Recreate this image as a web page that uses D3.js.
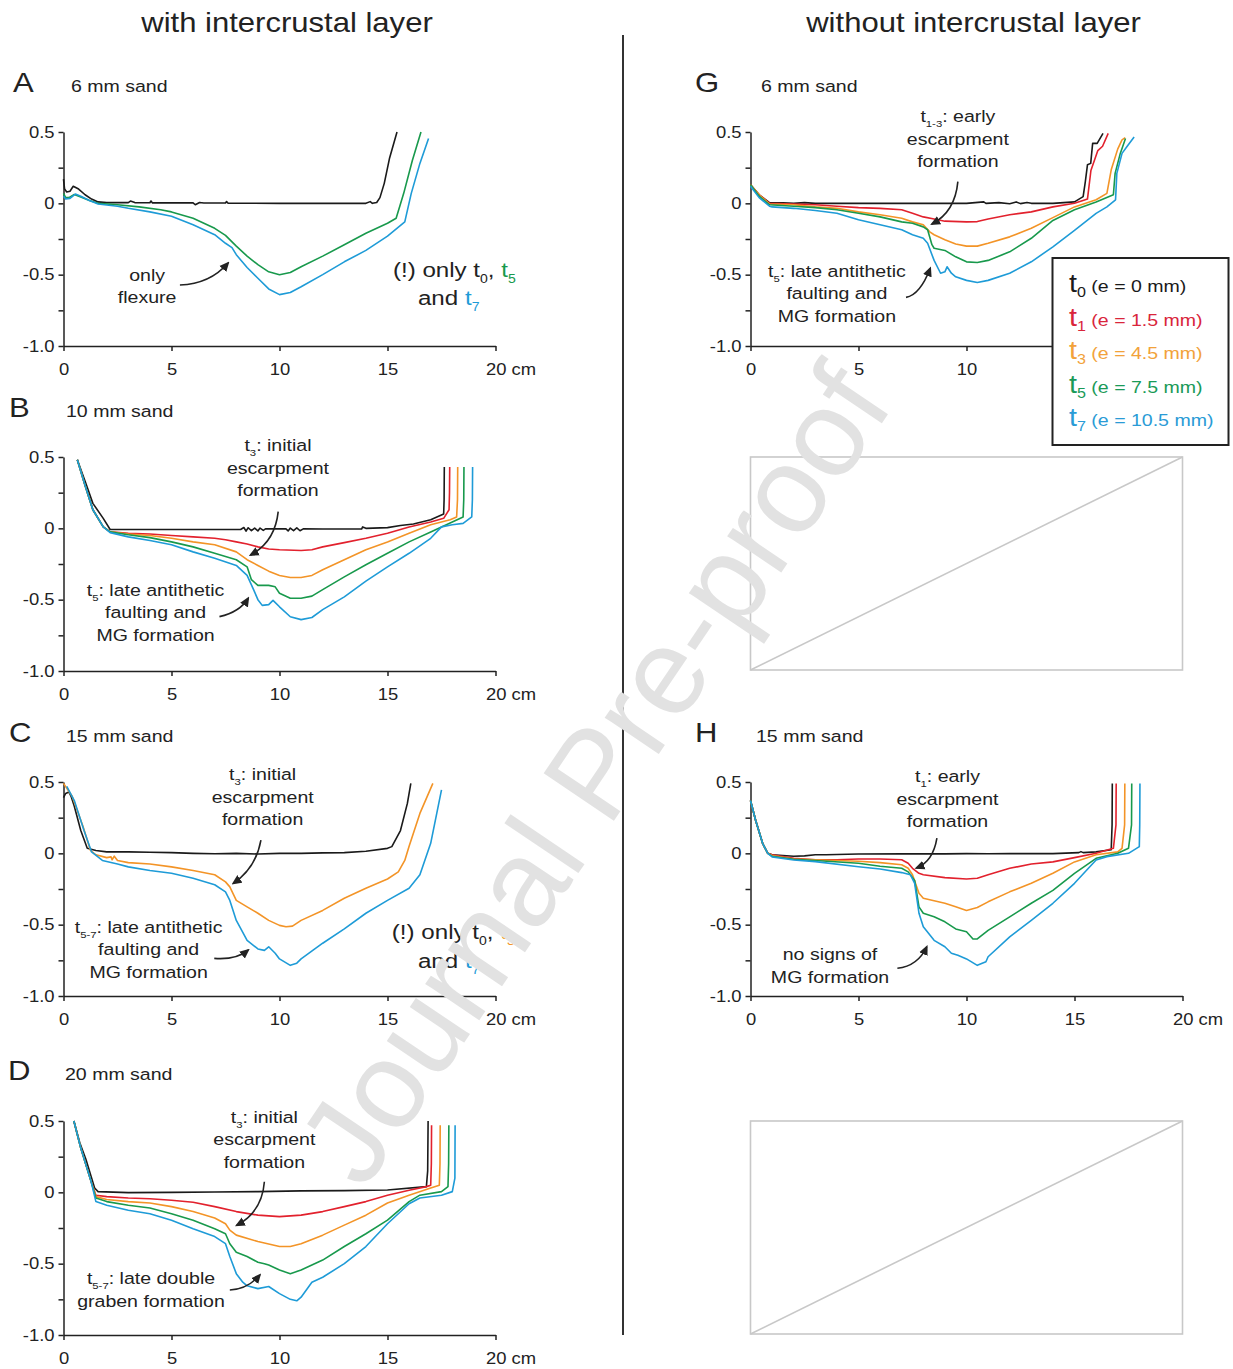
<!DOCTYPE html>
<html><head><meta charset="utf-8">
<script src="https://cdn.jsdelivr.net/npm/d3@7"></script>
<style>body{margin:0;background:#fff}svg{display:block}</style>
</head><body>
<svg id="chart" width="1233" height="1369"></svg>
<script>
// ---------------- DATA ----------------
const xTickValues = [0, 5, 10, 15, 20];
const xTickLabels = ["0", "5", "10", "15", "20 cm"];
const xTickLabelsHidden = ["0", "5", "10", "", ""]; // panel G: 15 and 20 cm lie under the legend
const yTickValues = [-1, -0.75, -0.5, -0.25, 0, 0.25, 0.5];
const yTickLabels = ["-1.0", "", "-0.5", "", "0", "", "0.5"];

const seriesNames = ["t0", "t1", "t3", "t5", "t7"];
const legendLabels = [" (e = 0 mm)", " (e = 1.5 mm)", " (e = 4.5 mm)", " (e = 7.5 mm)", " (e = 10.5 mm)"];

// Panel A - 6 mm sand, with intercrustal layer
const A_t0 = [[0,0.17],[0.05,0.1],[0.15,0.08],[0.3,0.085],[0.45,0.12],[0.7,0.1],[1.0,0.06],[1.3,0.03],[1.6,0.01],[2.0,0.005],[3.0,0.005],[3.1,0.016],[3.3,0.005],[4.0,0.004],[4.05,0.016],[4.12,0.003],[5,0.003],[6,0.003],[6.1,-0.01],[6.3,0.006],[6.5,0.002],[7.5,0.002],[7.55,0.013],[7.62,0.001],[10,0],[14,0],[14.2,0.012],[14.3,0],[14.5,0.006],[14.65,0.04],[14.85,0.14],[15.1,0.32],[15.44,0.5]];
const A_t5 = [[0,0.07],[0.1,0.04],[0.25,0.04],[0.5,0.062],[0.8,0.045],[1.2,0.02],[1.6,0],[2.5,-0.01],[3.5,-0.025],[4.5,-0.045],[5,-0.06],[6,-0.105],[7,-0.175],[7.5,-0.225],[8,-0.3],[8.5,-0.37],[9,-0.43],[9.5,-0.48],[10,-0.5],[10.5,-0.485],[11,-0.445],[12,-0.37],[13,-0.29],[14,-0.21],[15,-0.14],[15.4,-0.105],[15.75,0.07],[16.15,0.3],[16.55,0.5]];
const A_t7 = [[0,0.05],[0.1,0.03],[0.3,0.035],[0.55,0.065],[0.8,0.05],[1.2,0.02],[1.6,-0.005],[2.5,-0.02],[3,-0.035],[4,-0.06],[5,-0.09],[6,-0.15],[7,-0.22],[7.5,-0.28],[7.8,-0.31],[8,-0.36],[8.5,-0.45],[9,-0.525],[9.5,-0.6],[10,-0.64],[10.5,-0.625],[11,-0.585],[12,-0.5],[13,-0.41],[14,-0.33],[15,-0.23],[15.8,-0.13],[16.1,0.07],[16.5,0.28],[16.9,0.455]];

// Panel B - 10 mm sand
const B_t0 = [[0.64,0.48],[1.0,0.33],[1.36,0.175],[1.84,0.07],[2.16,-0.008],[3,-0.008],[5,-0.008],[8.2,-0.008],[8.35,0.006],[8.45,-0.02],[8.55,0.004],[8.7,-0.016],[8.85,0.002],[9.0,-0.018],[9.1,0.002],[9.25,-0.014],[9.35,-0.004],[10.3,-0.004],[10.4,-0.018],[10.5,0.002],[10.65,-0.016],[10.8,0.003],[10.95,-0.017],[11.1,-0.004],[12,-0.005],[13.8,-0.005],[13.85,0.01],[14,0],[15,0.005],[15.6,0.02],[16.2,0.03],[17,0.06],[17.6,0.1],[17.62,0.2],[17.63,0.43]];
const B_t1 = [[0.64,0.48],[1.0,0.3],[1.36,0.13],[1.84,0.01],[2.16,-0.025],[3,-0.035],[4,-0.04],[5,-0.05],[6,-0.06],[7,-0.07],[7.5,-0.08],[8,-0.095],[8.5,-0.11],[9,-0.13],[9.5,-0.145],[10,-0.15],[11,-0.155],[11.5,-0.15],[12,-0.13],[13,-0.1],[14,-0.07],[15,-0.035],[16,0.01],[17,0.045],[17.6,0.07],[17.85,0.13],[17.87,0.25],[17.88,0.43]];
const B_t3 = [[0.64,0.48],[1.0,0.3],[1.36,0.13],[1.84,0.01],[2.16,-0.025],[3,-0.04],[4,-0.05],[5,-0.07],[6,-0.095],[7,-0.115],[8,-0.165],[8.5,-0.22],[9,-0.26],[9.5,-0.3],[10,-0.33],[10.5,-0.345],[11,-0.345],[11.5,-0.33],[12,-0.29],[13,-0.22],[14,-0.15],[15,-0.095],[16,-0.035],[17,0.025],[17.9,0.06],[18.2,0.08],[18.24,0.2],[18.25,0.43]];
const B_t5 = [[0.64,0.48],[1.0,0.3],[1.36,0.13],[1.84,0.01],[2.16,-0.025],[3,-0.045],[4,-0.065],[5,-0.095],[6,-0.13],[7,-0.175],[8,-0.22],[8.5,-0.27],[8.7,-0.36],[9,-0.4],[9.5,-0.4],[9.8,-0.41],[10,-0.455],[10.5,-0.49],[11,-0.49],[11.5,-0.475],[12,-0.43],[13,-0.34],[14,-0.255],[15,-0.175],[16,-0.095],[17,-0.025],[18,0.045],[18.5,0.08],[18.53,0.2],[18.54,0.43]];
const B_t7 = [[0.64,0.48],[1.0,0.3],[1.36,0.13],[1.84,0.01],[2.16,-0.03],[3,-0.06],[4,-0.085],[5,-0.115],[6,-0.165],[7,-0.21],[8,-0.26],[8.5,-0.33],[8.8,-0.43],[9,-0.5],[9.2,-0.54],[9.5,-0.535],[9.7,-0.505],[10,-0.55],[10.5,-0.62],[11,-0.64],[11.5,-0.625],[12,-0.57],[13,-0.48],[14,-0.37],[15,-0.27],[16,-0.175],[17,-0.07],[17.5,0.01],[18,0.025],[18.5,0.035],[18.9,0.08],[18.93,0.2],[18.94,0.43]];

// Panel C - 15 mm sand
const C_t0 = [[0,0.39],[0.1,0.42],[0.25,0.43],[0.35,0.4],[0.5,0.33],[0.8,0.16],[1.1,0.035],[1.5,0.02],[2,0.01],[3,0.01],[4,0.008],[5,0.005],[6,0],[7,-0.003],[8,0],[9,-0.005],[10,0],[11,0],[12,0.003],[13,0.005],[14,0.015],[15,0.035],[15.2,0.047],[15.6,0.16],[15.92,0.35],[16.08,0.49]];
const C_t3 = [[0,0.49],[0.4,0.4],[0.9,0.19],[1.25,0.02],[1.5,-0.01],[2.0,-0.03],[2.2,-0.025],[2.25,-0.045],[2.35,-0.02],[2.5,-0.05],[3,-0.065],[4,-0.075],[5,-0.095],[6,-0.12],[7,-0.15],[7.5,-0.2],[7.7,-0.235],[8,-0.33],[8.5,-0.375],[9,-0.42],[9.5,-0.47],[10,-0.505],[10.3,-0.515],[10.6,-0.51],[11,-0.47],[12,-0.4],[13,-0.315],[14,-0.245],[15,-0.18],[15.5,-0.13],[15.8,-0.05],[16,0.05],[16.5,0.28],[17.1,0.49]];
const C_t7 = [[0.15,0.47],[0.5,0.37],[0.95,0.16],[1.3,0.01],[1.8,-0.05],[2.5,-0.075],[3,-0.095],[4,-0.12],[5,-0.14],[6,-0.175],[7,-0.22],[7.5,-0.27],[7.7,-0.33],[8,-0.47],[8.5,-0.61],[9,-0.67],[9.3,-0.68],[9.5,-0.655],[9.8,-0.7],[10,-0.74],[10.5,-0.785],[10.8,-0.77],[11,-0.74],[12,-0.63],[13,-0.53],[14,-0.42],[15,-0.33],[16,-0.245],[16.5,-0.15],[17,0.07],[17.5,0.445]];

// Panel D - 20 mm sand
const D_t0 = [[0.48,0.5],[0.75,0.35],[1.04,0.23],[1.44,0.03],[1.6,0.005],[3,-0.002],[5,0],[7,0.002],[9,0.005],[11,0.01],[13,0.012],[15,0.016],[16.8,0.04],[16.86,0.15],[16.88,0.5]];
const D_t1 = [[0.48,0.5],[0.8,0.31],[1.28,0.075],[1.5,-0.02],[2,-0.03],[3,-0.04],[4,-0.045],[5,-0.055],[6,-0.07],[7,-0.1],[8,-0.135],[9,-0.16],[10,-0.17],[11,-0.16],[12,-0.135],[13,-0.1],[14,-0.065],[15,-0.02],[16,0.015],[16.8,0.04],[17.0,0.05],[17.03,0.2],[17.04,0.47]];
const D_t3 = [[0.48,0.5],[0.8,0.31],[1.28,0.075],[1.5,-0.03],[2,-0.05],[3,-0.065],[4,-0.075],[5,-0.1],[6,-0.135],[7,-0.18],[7.5,-0.22],[7.7,-0.265],[8,-0.3],[9,-0.345],[10,-0.38],[10.5,-0.38],[11,-0.36],[12,-0.3],[13,-0.23],[14,-0.16],[15,-0.075],[16,-0.02],[17,0.03],[17.4,0.05],[17.43,0.2],[17.44,0.47]];
const D_t5 = [[0.48,0.5],[0.8,0.31],[1.28,0.075],[1.5,-0.04],[2,-0.065],[3,-0.09],[4,-0.11],[5,-0.15],[6,-0.195],[7,-0.255],[7.5,-0.29],[7.7,-0.36],[8,-0.42],[8.5,-0.45],[9,-0.49],[9.3,-0.5],[9.5,-0.51],[10,-0.545],[10.5,-0.57],[11,-0.545],[12,-0.475],[13,-0.38],[14,-0.29],[15,-0.195],[16,-0.065],[16.5,-0.02],[17.5,0.005],[17.8,0.04],[17.83,0.2],[17.84,0.47]];
const D_t7 = [[0.48,0.5],[0.8,0.31],[1.28,0.075],[1.5,-0.065],[2,-0.09],[3,-0.125],[4,-0.15],[5,-0.195],[6,-0.255],[7,-0.31],[7.5,-0.36],[7.7,-0.45],[8,-0.57],[8.3,-0.63],[8.5,-0.655],[9,-0.675],[9.5,-0.66],[10,-0.71],[10.5,-0.75],[10.8,-0.76],[11,-0.735],[11.5,-0.63],[12,-0.595],[13,-0.5],[14,-0.38],[15,-0.22],[16,-0.08],[16.5,-0.04],[17.5,-0.02],[18,0.005],[18.12,0.1],[18.13,0.47]];

// Panel G - 6 mm sand, without intercrustal layer
const G_t0 = [[0,0.13],[0.4,0.06],[0.88,0.005],[1.5,0.003],[2,0],[2.5,0.005],[3,0],[4,0],[6,0],[8,0],[10,0],[10.8,0.01],[10.9,0],[11.5,0.005],[12,-0.003],[12.3,0.01],[12.5,-0.002],[12.8,0.006],[13,0],[14,0],[15,0.01],[15.4,0.047],[15.5,0.15],[15.6,0.27],[15.75,0.28],[15.84,0.42],[16.05,0.42],[16.32,0.49]];
const G_t1 = [[0,0.13],[0.4,0.06],[0.88,0],[2,-0.005],[3,-0.01],[4,-0.02],[5,-0.03],[6,-0.035],[7,-0.045],[7.5,-0.07],[8,-0.095],[8.5,-0.11],[9,-0.125],[10,-0.13],[10.5,-0.128],[11,-0.11],[12,-0.08],[13,-0.06],[14,-0.025],[15,0],[15.5,0.025],[15.6,0.03],[15.76,0.23],[16.08,0.37],[16.3,0.4],[16.56,0.49]];
const G_t3 = [[0,0.13],[0.4,0.06],[0.88,-0.005],[2,-0.01],[3,-0.025],[4,-0.035],[5,-0.06],[6,-0.08],[7,-0.105],[7.5,-0.13],[8,-0.15],[8.3,-0.2],[8.5,-0.22],[9,-0.255],[9.5,-0.285],[10,-0.3],[10.5,-0.3],[11,-0.28],[12,-0.235],[13,-0.175],[14,-0.1],[15,-0.025],[16,0.025],[16.5,0.07],[16.7,0.235],[17,0.38],[17.2,0.445],[17.35,0.46]];
const G_t5 = [[0,0.13],[0.4,0.05],[0.88,-0.01],[2,-0.02],[3,-0.03],[4,-0.045],[5,-0.07],[6,-0.095],[7,-0.13],[7.5,-0.14],[8,-0.165],[8.2,-0.185],[8.4,-0.29],[8.5,-0.315],[9,-0.33],[9.5,-0.375],[10,-0.41],[10.5,-0.415],[11,-0.4],[12,-0.34],[13,-0.245],[14,-0.12],[15,-0.045],[16,0.01],[16.8,0.06],[16.88,0.21],[17.12,0.35],[17.36,0.455]];
const G_t7 = [[0,0.12],[0.4,0.04],[0.88,-0.02],[1,-0.025],[2,-0.035],[3,-0.05],[4,-0.07],[5,-0.115],[6,-0.15],[7,-0.185],[7.5,-0.22],[8,-0.245],[8.2,-0.28],[8.5,-0.4],[8.8,-0.49],[9,-0.48],[9.1,-0.445],[9.3,-0.49],[9.5,-0.515],[10,-0.54],[10.5,-0.555],[11,-0.54],[12,-0.49],[13,-0.41],[14,-0.305],[15,-0.19],[16,-0.07],[16.5,-0.025],[16.9,0.025],[16.96,0.21],[17.2,0.35],[17.44,0.4],[17.76,0.465]];

// Panel H - 15 mm sand, without intercrustal layer
const H_t0 = [[0,0.37],[0.24,0.23],[0.56,0.07],[0.8,0],[1.0,-0.01],[1.5,-0.015],[2,-0.02],[2.5,-0.018],[3,-0.01],[3.5,-0.01],[4,-0.008],[5,-0.005],[7,-0.004],[9,-0.004],[10,-0.002],[11,-0.003],[12,-0.002],[14,-0.002],[15.2,0.005],[15.3,0.012],[15.4,0.005],[16,0.01],[16.7,0.025],[16.74,0.2],[16.75,0.49]];
const H_t1 = [[0,0.37],[0.24,0.23],[0.56,0.07],[0.8,0],[1,-0.01],[2,-0.035],[3,-0.045],[4,-0.045],[5,-0.04],[6,-0.04],[7,-0.045],[7.3,-0.07],[7.5,-0.105],[7.8,-0.14],[8,-0.15],[9,-0.17],[10,-0.18],[10.5,-0.175],[11,-0.15],[12,-0.105],[13,-0.075],[14,-0.06],[15,-0.03],[16,0],[16.8,0.035],[16.92,0.2],[16.93,0.49]];
const H_t3 = [[0,0.37],[0.24,0.23],[0.56,0.07],[0.8,0],[1,-0.015],[2,-0.04],[3,-0.045],[5,-0.055],[6,-0.065],[7,-0.08],[7.3,-0.105],[7.5,-0.15],[7.8,-0.28],[8,-0.315],[9,-0.35],[9.5,-0.375],[10,-0.4],[10.5,-0.38],[11,-0.34],[12,-0.27],[13,-0.21],[14,-0.14],[15,-0.06],[16,-0.01],[17,0.01],[17.2,0.035],[17.32,0.2],[17.33,0.49]];
const H_t5 = [[0,0.37],[0.24,0.23],[0.56,0.07],[0.8,0],[1,-0.02],[2,-0.042],[3,-0.05],[5,-0.07],[6,-0.09],[7,-0.105],[7.3,-0.13],[7.6,-0.19],[7.8,-0.375],[8,-0.42],[8.5,-0.445],[9,-0.48],[9.5,-0.53],[10,-0.55],[10.3,-0.6],[10.5,-0.6],[11,-0.54],[12,-0.445],[13,-0.35],[14,-0.26],[15,-0.14],[16,-0.035],[17,0],[17.5,0.035],[17.64,0.2],[17.65,0.49]];
const H_t7 = [[0,0.37],[0.24,0.23],[0.56,0.07],[0.8,0],[1,-0.025],[2,-0.047],[3,-0.058],[5,-0.094],[6,-0.11],[7,-0.135],[7.4,-0.15],[7.6,-0.21],[7.8,-0.42],[8,-0.515],[8.5,-0.61],[9,-0.655],[9.3,-0.7],[9.6,-0.715],[10,-0.74],[10.5,-0.785],[10.9,-0.76],[11,-0.725],[12,-0.585],[13,-0.47],[14,-0.35],[15,-0.21],[16,-0.047],[16.5,-0.023],[17.5,0],[18,0.047],[18.02,0.2],[18.03,0.49]];

// ---------------- STYLE / LAYOUT ----------------
const SX = 1.15;
const FONT = '"Liberation Sans", Arial, Helvetica, sans-serif';
const INK = "#222";
const COLORS = {t0:"#1a1a1a", t1:"#e2212d", t3:"#f39427", t5:"#18994c", t7:"#1e9bd7"};
const LEGEND_COLORS = {t0:"#1a1a1a", t1:"#d9253b", t3:"#f2a23a", t5:"#1a9a58", t7:"#2a9bd6"};

const svg = d3.select("#chart");
svg.append("rect").attr("width",1233).attr("height",1369).attr("fill","#fff");

const defs = svg.append("defs");
defs.append("marker").attr("id","ah").attr("viewBox","0 0 10 10").attr("refX",8).attr("refY",5)
  .attr("markerWidth",10).attr("markerHeight",10).attr("markerUnits","userSpaceOnUse").attr("orient","auto")
  .append("path").attr("d","M0,0.5 L10,5 L0,9.5 Z").attr("fill",INK);

function parse(str, fill, size) {
  const parts = []; const re = /_\{([^}]*)\}/g; let last = 0, m;
  while ((m = re.exec(str))) {
    if (m.index > last) parts.push({t: str.slice(last, m.index), fill, size});
    parts.push({t: m[1], sub: true, fill, size: size ? size*0.58 : null});
    last = re.lastIndex;
  }
  if (last < str.length) parts.push({t: str.slice(last), fill, size});
  return parts;
}
function rich(parent, x, y, parts, size, anchor, fill) {
  const t = parent.append("text")
    .attr("transform", `translate(${x},${y}) scale(${SX},1)`)
    .attr("text-anchor", anchor || "start").attr("font-size", size)
    .attr("fill", fill || INK).style("font-family", FONT);
  let shift = 0;
  parts.forEach(p => {
    const ts = t.append("tspan").text(p.t);
    const fs = p.size || (p.sub ? size*0.58 : size);
    ts.attr("font-size", fs);
    if (p.fill) ts.attr("fill", p.fill);
    const target = p.sub ? (p.shift != null ? p.shift : size*0.28) : 0;
    if (target !== shift) { ts.attr("dy", target - shift); shift = target; }
  });
  return t;
}

// ---------------- PANELS ----------------
const panels = [
  {letter:"A", sand:"6 mm sand", lx:13, sx:71, ty:92, xr:[63.5,495.5], yr:[346,132], xl:xTickLabels,
   series:{t0:A_t0, t5:A_t5, t7:A_t7},
   notes:[
     {x:3.87, y:-0.544, anchor:"middle", size:17, lines:[[["only"]],[["flexure"]]]},
     {x:15.25, y:-0.516, anchor:"start", size:21, lines:[[["(!) only t_{0}, "],["t_{5}","t5"]]]},
     {x:16.41, y:-0.713, anchor:"start", size:21, lines:[[["and "],["t_{7}","t7"]]]}
   ],
   arrows:[[5.39,-0.572, 6.78,-0.565, 7.62,-0.418]]},
  {letter:"B", sand:"10 mm sand", lx:9, sx:66, ty:417, xr:[63.5,495.5], yr:[671,457], xl:xTickLabels,
   series:{t0:B_t0, t1:B_t1, t3:B_t3, t5:B_t5, t7:B_t7},
   notes:[
     {x:9.93, y:0.542, anchor:"middle", size:17, lines:[[["t_{3}: initial"]],[["escarpment"]],[["formation"]]]},
     {x:4.26, y:-0.474, anchor:"middle", size:17, lines:[[["t_{5}: late antithetic"]],[["faulting and"]],[["MG formation"]]]}
   ],
   arrows:[[9.94,0.117, 9.79,-0.096, 8.66,-0.187],[7.22,-0.619, 8.17,-0.586, 8.55,-0.49]]},
  {letter:"C", sand:"15 mm sand", lx:9, sx:66, ty:742, xr:[63.5,495.5], yr:[996,782], xl:xTickLabels,
   series:{t0:C_t0, t3:C_t3, t7:C_t7},
   notes:[
     {x:9.22, y:0.514, anchor:"middle", size:17, lines:[[["t_{3}: initial"]],[["escarpment"]],[["formation"]]]},
     {x:3.94, y:-0.558, anchor:"middle", size:17, lines:[[["t_{5-7}: late antithetic"]],[["faulting and"]],[["MG formation"]]]},
     {x:15.2, y:-0.6, anchor:"start", size:21, lines:[[["(!) only t_{0}, "],["t_{3}","t3"]]]},
     {x:16.41, y:-0.804, anchor:"start", size:21, lines:[[["and "],["t_{7}","t7"]]]}
   ],
   arrows:[[9.14,0.093, 8.91,-0.103, 7.86,-0.21],[6.98,-0.736, 7.99,-0.748, 8.55,-0.678]]},
  {letter:"D", sand:"20 mm sand", lx:8, sx:65, ty:1080, xr:[63.5,495.5], yr:[1335,1121], xl:xTickLabels,
   series:{t0:D_t0, t1:D_t1, t3:D_t3, t5:D_t5, t7:D_t7},
   notes:[
     {x:9.3, y:0.486, anchor:"middle", size:17, lines:[[["t_{3}: initial"]],[["escarpment"]],[["formation"]]]},
     {x:4.05, y:-0.643, anchor:"middle", size:17, lines:[[["t_{5-7}: late double"]],[["graben formation"]]]}
   ],
   arrows:[[9.3,0.074, 9.19,-0.138, 8.02,-0.231],[7.7,-0.685, 8.54,-0.678, 9.09,-0.579]]},
  {letter:"G", sand:"6 mm sand", lx:695, sx:761, ty:92, xr:[750.5,1182.5], yr:[346,132], xl:xTickLabelsHidden,
   series:{t0:G_t0, t1:G_t1, t3:G_t3, t5:G_t5, t7:G_t7},
   notes:[
     {x:9.6, y:0.57, anchor:"middle", size:17, lines:[[["t_{1-3}: early"]],[["escarpment"]],[["formation"]]]},
     {x:4.0, y:-0.516, anchor:"middle", size:17, lines:[[["t_{5}: late antithetic"]],[["faulting and"]],[["MG formation"]]]}
   ],
   arrows:[[9.6,0.152, 9.47,-0.061, 8.4,-0.145],[7.2,-0.659, 7.85,-0.642, 8.32,-0.455]]},
  {letter:"H", sand:"15 mm sand", lx:695, sx:756, ty:742, xr:[750.5,1182.5], yr:[996,782], xl:xTickLabels,
   series:{t0:H_t0, t1:H_t1, t3:H_t3, t5:H_t5, t7:H_t7},
   notes:[
     {x:9.12, y:0.5, anchor:"middle", size:17, lines:[[["t_{1}: early"]],[["escarpment"]],[["formation"]]]},
     {x:3.68, y:-0.748, anchor:"middle", size:17, lines:[[["no signs of"]],[["MG formation"]]]}
   ],
   arrows:[[8.63,0.107, 8.45,-0.058, 7.68,-0.103],[6.8,-0.806, 7.75,-0.79, 8.16,-0.655]]}
];

// Titles
rich(svg, 287, 32, [{t:"with intercrustal layer"}], 27, "middle");
rich(svg, 973.5, 32, [{t:"without intercrustal layer"}], 27, "middle");

// Divider
svg.append("line").attr("x1",623).attr("x2",623).attr("y1",35).attr("y2",1335)
  .attr("stroke","#333").attr("stroke-width",2);

function styleAxis(g) {
  g.selectAll("path.domain").attr("stroke", INK).attr("stroke-width", 1.5);
  g.selectAll(".tick line").attr("stroke", INK).attr("stroke-width", 1.5);
  g.selectAll(".tick text").attr("fill", INK).style("font-family", FONT).attr("font-size", 16)
    .each(function(){ const t = d3.select(this); const xx = +t.attr("x") || 0;
      t.attr("x", xx / SX).attr("transform", `scale(${SX},1)`); });
}

panels.forEach(p => {
  const g = svg.append("g");
  const x = d3.scaleLinear().domain([0, 20]).range(p.xr);
  const y = d3.scaleLinear().domain([-1, 0.5]).range(p.yr);

  rich(g, p.lx, p.ty, [{t:p.letter}], 27, "start");
  rich(g, p.sx, p.ty, [{t:p.sand}], 17, "start");

  const ya = g.append("g").attr("transform", `translate(${p.xr[0]},0)`)
    .call(d3.axisLeft(y).tickValues(yTickValues).tickSize(5).tickSizeOuter(0).tickPadding(4)
      .tickFormat((d, i) => yTickLabels[i]));
  styleAxis(ya);
  const xa = g.append("g").attr("transform", `translate(0,${p.yr[0]})`)
    .call(d3.axisBottom(x).tickValues(xTickValues).tickSize(5).tickSizeOuter(0).tickPadding(13)
      .tickFormat((d, i) => p.xl[i]));
  styleAxis(xa);
  xa.selectAll(".tick text").filter(d => d === 20).attr("text-anchor","start").attr("x", -10 / SX);

  const line = d3.line().x(d => x(d[0])).y(d => y(d[1]));
  seriesNames.forEach(k => {
    if (!p.series[k]) return;
    g.append("path").datum(p.series[k]).attr("d", line).attr("fill","none")
      .attr("stroke", COLORS[k]).attr("stroke-width", 1.6).attr("stroke-linejoin","round");
  });

  p.notes.forEach(n => {
    n.lines.forEach((ln, li) => {
      let parts = [];
      ln.forEach(seg => { parts = parts.concat(parse(seg[0], seg[1] ? COLORS[seg[1]] : null)); });
      rich(g, x(n.x), y(n.y) + li * 22.5, parts, n.size, n.anchor);
    });
  });
  p.arrows.forEach(a => {
    g.append("path")
      .attr("d", `M${x(a[0])},${y(a[1])} Q${x(a[2])},${y(a[3])} ${x(a[4])},${y(a[5])}`)
      .attr("fill","none").attr("stroke", INK).attr("stroke-width", 1.6).attr("marker-end","url(#ah)");
  });
});

// Empty boxes with diagonal
[[670,457],[1334,1121]].forEach(yr => {
  const x = d3.scaleLinear().domain([0, 20]).range([750.5,1182.5]);
  const y = d3.scaleLinear().domain([-1, 0.5]).range(yr);
  svg.append("rect").attr("x", x(0)).attr("y", y(0.5)).attr("width", x(20)-x(0)).attr("height", y(-1)-y(0.5))
    .attr("fill","none").attr("stroke","#c8c8c8").attr("stroke-width",1.6);
  svg.append("line").attr("x1", x(0)).attr("y1", y(-1)).attr("x2", x(20)).attr("y2", y(0.5))
    .attr("stroke","#c8c8c8").attr("stroke-width",1.6);
});

// Legend
const lg = svg.append("g");
lg.append("rect").attr("x",1052.5).attr("y",258).attr("width",176).attr("height",187)
  .attr("fill","#fff").attr("stroke", INK).attr("stroke-width",2);
seriesNames.forEach((k, i) => {
  const c = LEGEND_COLORS[k];
  rich(lg, 1069, 292 + i*33.5, [
    {t:"t", size:25, fill:c},
    {t:k.slice(1), sub:true, size:14, shift:5, fill:c},
    {t:legendLabels[i], size:17, fill:c}
  ], 17, "start");
});

// Watermark
svg.append("text").attr("transform","translate(594,774) rotate(-56)")
  .attr("text-anchor","middle").attr("dominant-baseline","central")
  .attr("font-size",123).style("font-family", FONT).attr("fill","#e2e2e2")
  .text("Journal Pre-proof");
</script>
</body></html>
